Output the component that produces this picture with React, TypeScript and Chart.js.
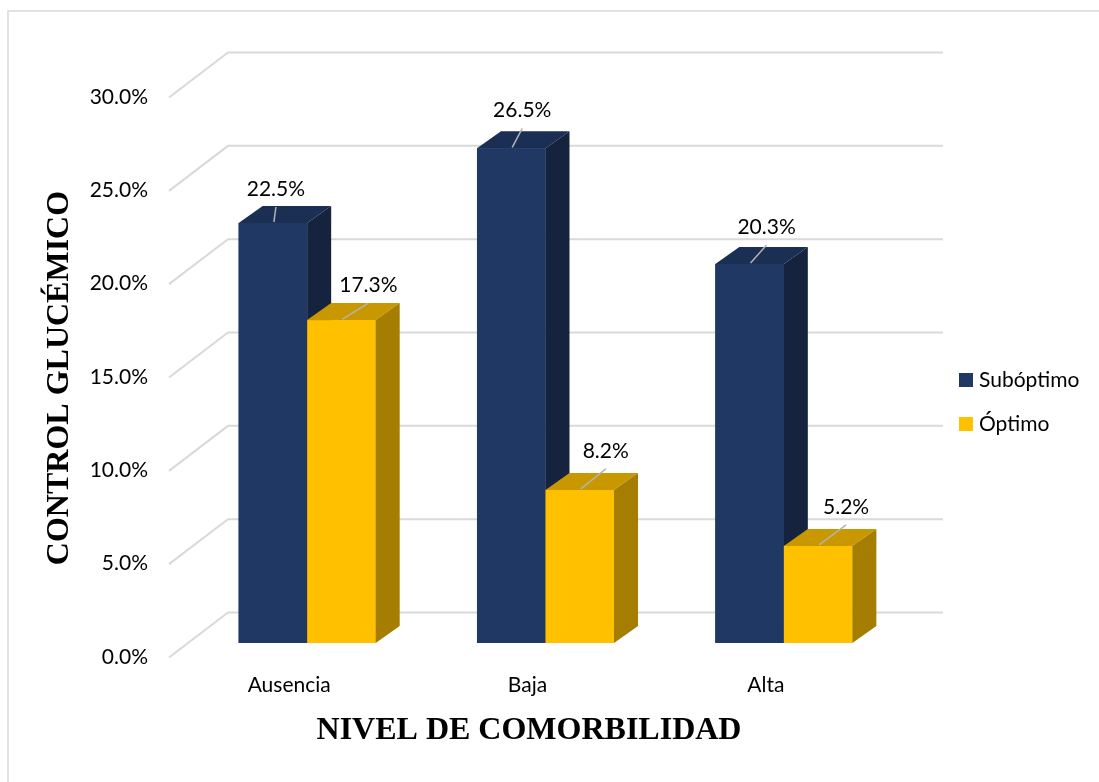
import React, { useEffect, useRef } from 'react';
import { Chart, registerables } from 'chart.js';

Chart.register(...registerables);

// ---- Data ----
const categories = ['Ausencia', 'Baja', 'Alta'];
const seriesNames = ['Subóptimo', 'Óptimo'];
const suboptimo = [22.5, 26.5, 20.3];
const optimo = [17.3, 8.2, 5.2];
const yTickValues = [0, 5, 10, 15, 20, 25, 30];
const xTitle = 'NIVEL DE COMORBILIDAD';
const yTitle = 'CONTROL GLUCÉMICO';

// ---- Styles ----
const FRONT = ['#203864', '#FFC000'];
const TOP = ['#1b2e54', '#c99800'];
const SIDE = ['#15233f', '#a57d00'];
const LABEL_DX = [[3, 11, 17], [27, 26, 28]];
const LABEL_DY = [[-34, -38, -37], [-35, -39, -39]];
const DEPTH_X = 24;
const DEPTH_Y = 17;
const SANS = '"Lato", "Open Sans", sans-serif';
const SERIF = '"Liberation Serif", "Times New Roman", serif';
const GRID = '#d9d9d9';

const fmt = (v: number) => v.toFixed(1) + '%';

const threeD = {
  id: 'threeD',
  beforeDatasetsDraw(chart: any) {
    const { ctx, chartArea, scales } = chart;
    const y = scales.y;
    ctx.save();
    // outer frame
    ctx.strokeStyle = GRID;
    ctx.lineWidth = 1.5;
    ctx.strokeRect(8, 11, 3000, 3000);
    // 3D grid: front-left diagonal + back wall line
    ctx.lineWidth = 2;
    ctx.strokeStyle = GRID;
    y.ticks.forEach((t: any) => {
      const p = y.getPixelForValue(t.value);
      ctx.beginPath();
      ctx.moveTo(chartArea.left - 19, p + 14.5);
      ctx.lineTo(chartArea.left + 40, p - 30.5);
      ctx.lineTo(chartArea.right + 40, p - 30.5);
      ctx.stroke();
    });
    ctx.restore();
  },
  afterDatasetsDraw(chart: any) {
    const { ctx } = chart;
    const nCat = chart.data.labels.length;
    const nDs = chart.data.datasets.length;
    ctx.save();
    for (let i = 0; i < nCat; i++) {
      for (let d = 0; d < nDs; d++) {
        const el = chart.getDatasetMeta(d).data[i];
        const { x, y, width, base } = el.getProps(['x', 'y', 'width', 'base'], true);
        const l = x - width / 2;
        const r = x + width / 2;
        // front
        ctx.fillStyle = FRONT[d];
        ctx.fillRect(l, y, width, base - y);
        // top
        ctx.fillStyle = TOP[d];
        ctx.beginPath();
        ctx.moveTo(l, y);
        ctx.lineTo(l + DEPTH_X, y - DEPTH_Y);
        ctx.lineTo(r + DEPTH_X, y - DEPTH_Y);
        ctx.lineTo(r, y);
        ctx.closePath();
        ctx.fill();
        // side
        ctx.fillStyle = SIDE[d];
        ctx.beginPath();
        ctx.moveTo(r, y);
        ctx.lineTo(r + DEPTH_X, y - DEPTH_Y);
        ctx.lineTo(r + DEPTH_X, base - DEPTH_Y);
        ctx.lineTo(r, base);
        ctx.closePath();
        ctx.fill();
      }
    }
    // data labels with leader lines
    ctx.font = `21px ${SANS}`;
    ctx.textAlign = 'center';
    ctx.textBaseline = 'middle';
    for (let d = 0; d < nDs; d++) {
      const meta = chart.getDatasetMeta(d);
      const values = chart.data.datasets[d].data;
      meta.data.forEach((el: any, i: number) => {
        const { x, y } = el.getProps(['x', 'y'], true);
        const lx = x + LABEL_DX[d][i];
        const ly = y + LABEL_DY[d][i];
        ctx.strokeStyle = '#b3b3b3';
        ctx.lineWidth = 1.5;
        ctx.beginPath();
        ctx.moveTo(lx, ly + 18);
        ctx.lineTo(x + 1, y - 1);
        ctx.stroke();
        ctx.fillStyle = '#000';
        ctx.fillText(fmt(values[i]), lx, ly);
      });
    }
    // legend
    ctx.textAlign = 'left';
    ctx.textBaseline = 'alphabetic';
    chart.data.datasets.forEach((ds: any, d: number) => {
      const top = 373 + d * 44;
      ctx.fillStyle = ds.backgroundColor;
      ctx.fillRect(959, top, 14, 14);
      ctx.fillStyle = '#000';
      ctx.fillText(ds.label, 979, top + 14);
    });
    // axis titles
    ctx.font = `bold 32px ${SERIF}`;
    ctx.textAlign = 'center';
    ctx.fillText(xTitle, 529, 739);
    ctx.save();
    ctx.translate(68, 378);
    ctx.rotate(-Math.PI / 2);
    ctx.fillText(yTitle, 0, 0);
    ctx.restore();
    ctx.restore();
  },
};

export default function App() {
  const ref = useRef<HTMLCanvasElement>(null);
  useEffect(() => {
    const chart = new Chart(ref.current as HTMLCanvasElement, {
      type: 'bar',
      data: {
        labels: categories,
        datasets: [
          { label: seriesNames[0], data: suboptimo, backgroundColor: FRONT[0] },
          { label: seriesNames[1], data: optimo, backgroundColor: FRONT[1] },
        ],
      },
      options: {
        responsive: false,
        animation: false,
        layout: { padding: { left: 0, right: 196, top: 83, bottom: 0 } },
        datasets: { bar: { barPercentage: 1, categoryPercentage: 0.575 } } as any,
        plugins: {
          legend: { display: false },
          tooltip: { enabled: false },
        },
        scales: {
          x: {
            grid: { display: false, drawTicks: false },
            border: { display: false },
            ticks: {
              font: { family: SANS, size: 21 },
              color: '#000',
              padding: 30,
              labelOffset: -18,
            },
            afterFit: (s: any) => {
              s.height = 139;
            },
          },
          y: {
            min: 0,
            max: 30,
            grid: { display: false, drawTicks: false },
            border: { display: false },
            afterBuildTicks: (s: any) => {
              s.ticks = yTickValues.map((v) => ({ value: v }));
            },
            ticks: {
              font: { family: SANS, size: 21 },
              color: '#000',
              padding: 40,
              labelOffset: 14,
              callback: (v: any) => fmt(Number(v)),
            },
            afterFit: (s: any) => {
              s.width = 188;
            },
          },
        },
      } as any,
      plugins: [threeD],
    });
    return () => chart.destroy();
  }, []);
  return (
    <div style={{ position: 'absolute', left: 0, top: 0, width: 1099, height: 782, background: '#fff' }}>
      <canvas ref={ref} width={1099} height={782} style={{ display: 'block' }} />
    </div>
  );
}
